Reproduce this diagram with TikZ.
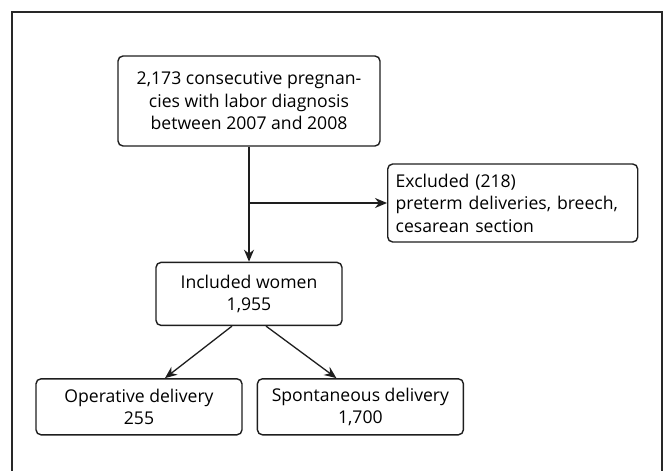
\documentclass[tikz,border=0pt]{standalone}
\usepackage{fontspec}
\setmainfont{Open Sans}
\definecolor{FrameGray}{RGB}{40,40,40}
\definecolor{InkBlack}{RGB}{30,30,30}
\usetikzlibrary{positioning,arrows.meta}
\begin{document}
\begin{tikzpicture}[x=1pt,y=-1pt,
      >={Stealth[length=12pt,width=10pt]},
      box/.style={draw=InkBlack,fill=white,rounded corners=5pt,line width=1.4pt,
                  align=center,inner sep=0pt,font=\fontsize{17.6}{22.5}\selectfont},
      note/.style={box,align=left,text width=234pt,inner xsep=8pt},
      arrow/.style={->,line width=1.3pt,draw=InkBlack}]
    \useasboundingbox (0,0) rectangle (664,471);
    \draw[line width=1.2pt,draw=FrameGray] (12,471) -- (12,12) -- (662,12) -- (662,471);
    \node[box,minimum width=262pt,minimum height=90pt] (total) at (249,101)
      {2,173 consecutive pregnan-\\cies with labor diagnosis\\between 2007 and 2008};
    \node[box,minimum width=186pt,minimum height=63pt,below=115pt of total] (incl)
      {Included women\\1,955};
    \coordinate (branch) at (total.south |- 0,203);
    \node[note,minimum height=78pt,right=138pt of branch] (excl)
      {Excluded (218)\\preterm deliveries, breech,\\cesarean section};
    \node[box,minimum width=206pt,minimum height=56pt,below=52pt of incl,xshift=-110pt] (oper)
      {Operative delivery\\255};
    \node[box,minimum width=206pt,minimum height=56pt,right=14pt of oper] (spont)
      {Spontaneous delivery\\1,700};
    \draw[arrow] (total) -- (incl);
    \draw[arrow] (branch) -- (excl);
    \draw[arrow] ([xshift=-17pt]incl.south) -- ([xshift=26pt]oper.north);
    \draw[arrow] ([xshift=17pt]incl.south) -- ([xshift=-24pt]spont.north);
  \end{tikzpicture}
\end{document}
